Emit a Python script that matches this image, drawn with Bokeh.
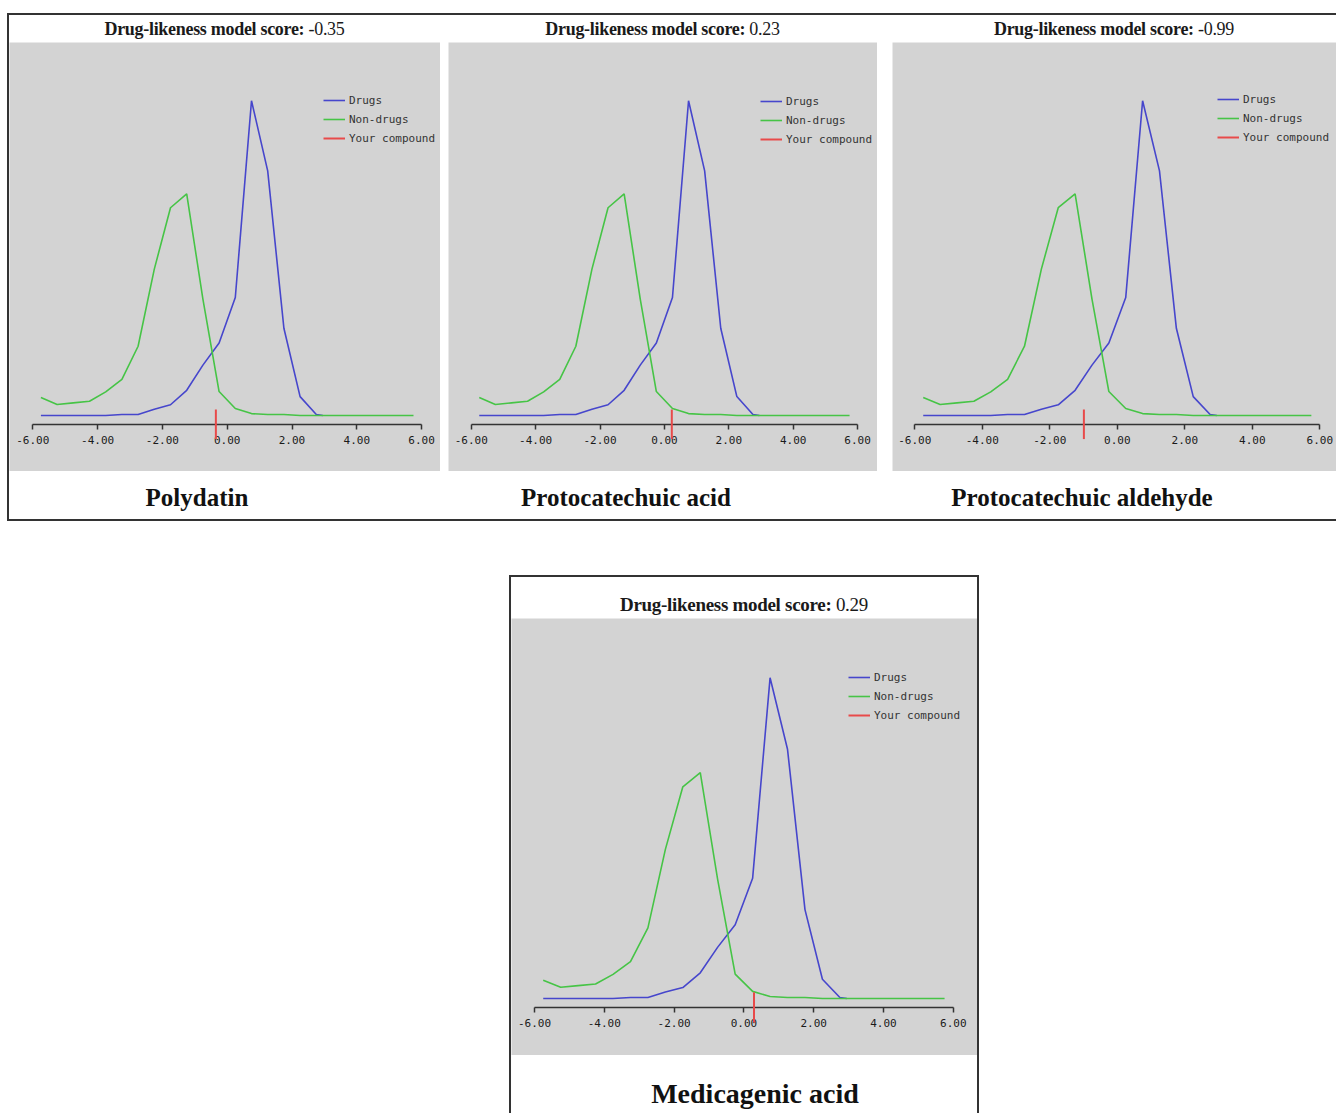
from bokeh.plotting import figure
from bokeh.models import (ColumnDataSource, FixedTicker, Div, Spacer, Row, Column)
from bokeh.embed import file_html
from bokeh.resources import INLINE

# ---------------- data ----------------
compounds = ["Polydatin", "Protocatechuic acid", "Protocatechuic aldehyde", "Medicagenic acid"]
scores = [-0.35, 0.23, -0.99, 0.29]

score_bins = [-5.75, -5.25, -4.75, -4.25, -3.75, -3.25, -2.75, -2.25, -1.75, -1.25,
              -0.75, -0.25, 0.25, 0.75, 1.25, 1.75, 2.25, 2.75, 3.25, 3.75,
              4.25, 4.75, 5.25, 5.75]
nondrugs_y = [0.057, 0.035, 0.040, 0.045, 0.075, 0.115, 0.220, 0.465, 0.660, 0.704,
              0.370, 0.076, 0.022, 0.006, 0.003, 0.003, 0.0, 0.0, 0.0, 0.0,
              0.0, 0.0, 0.0, 0.0]
drugs_x = [-5.75, -5.25, -4.75, -4.25, -3.75, -3.25, -2.75, -2.25, -1.75, -1.25,
           -0.75, -0.25, 0.25, 0.75, 1.25, 1.75, 2.25, 2.75, 2.95]
drugs_y = [0.0, 0.0, 0.0, 0.0, 0.0, 0.003, 0.003, 0.020, 0.034, 0.080,
           0.160, 0.230, 0.375, 1.000, 0.777, 0.277, 0.060, 0.003, 0.0]

tick_values = [-6, -4, -2, 0, 2, 4, 6]
tick_labels = ["-6.00", "-4.00", "-2.00", "0.00", "2.00", "4.00", "6.00"]
legend_labels = ["Drugs", "Non-drugs", "Your compound"]

# ---------------- style ----------------
GRAY = "#d3d3d3"
BLUE = "#4646cc"
GREEN = "#46c446"
RED = "#e84a4a"
INK = "#333333"

Y_RANGE = (-0.178, 1.185)
AXIS_Y = -0.028
MARK_TOP, MARK_BOT = 0.019, -0.075


def make_panel(score, width, height, left_pad, px_per_unit, legend_xy):
    x0 = -6 - left_pad / px_per_unit
    x1 = x0 + width / px_per_unit
    p = figure(width=width, height=height, x_range=(x0, x1), y_range=Y_RANGE,
               output_backend="svg", toolbar_location=None, y_axis_location=None,
               min_border=0, background_fill_color=GRAY, border_fill_color=GRAY,
               outline_line_color=None)
    p.grid.visible = False
    p.line(drugs_x, drugs_y, line_color=BLUE, line_width=1.6, legend_label=legend_labels[0])
    p.line(score_bins, nondrugs_y, line_color=GREEN, line_width=1.6, legend_label=legend_labels[1])
    src = ColumnDataSource(dict(x=[score], y0=[MARK_TOP], y1=[MARK_BOT]))
    seg = p.segment(x0="x", y0="y0", x1="x", y1="y1", source=src, line_color=RED,
                    line_width=2, legend_label=legend_labels[2])
    seg.level = "overlay"

    ax = p.xaxis[0]
    ax.fixed_location = AXIS_Y
    ax.bounds = (tick_values[0], tick_values[-1])
    ax.ticker = FixedTicker(ticks=tick_values)
    ax.major_label_overrides = {v: l for v, l in zip(tick_values, tick_labels)}
    ax.minor_tick_line_color = None
    ax.major_tick_in = 0
    ax.major_tick_out = 5
    ax.axis_line_color = INK
    ax.axis_line_width = 1.5
    ax.major_tick_line_color = INK
    ax.major_tick_line_width = 1.5
    ax.major_label_standoff = 7
    ax.major_label_text_font = "DejaVu Sans Mono"
    ax.major_label_text_font_size = "11px"
    ax.major_label_text_color = "#1a1a1a"

    lg = p.legend[0]
    lg.location = legend_xy
    lg.background_fill_alpha = 0
    lg.border_line_alpha = 0
    lg.padding = 0
    lg.margin = 0
    lg.spacing = 5
    lg.glyph_width = 22
    lg.glyph_height = 14
    lg.label_height = 14
    lg.label_standoff = 4
    lg.label_text_font = "DejaVu Sans Mono"
    lg.label_text_font_size = "11px"
    lg.label_text_color = "#333333"
    return p


def title_div(score, width, height, pad_top, size):
    txt = (f'<div style="width:{width}px;display:block;font-family:\'Liberation Serif\',serif;'
           f'font-size:{size}px;letter-spacing:-0.3px;line-height:28px;padding-top:{pad_top}px;'
           f'text-align:center;color:#1a1a1a;white-space:nowrap">'
           f'<b>Drug-likeness model score:</b> {score:.2f}</div>')
    return Div(text=txt, width=width, height=height, margin=0)


def name_row(name, center, height, pad_top, size):
    w = 320
    d = Div(text=(f'<div style="width:{w}px;display:block;font-family:\'Liberation Serif\',serif;'
                  f'font-size:{size}px;font-weight:bold;line-height:28px;padding-top:{pad_top}px;'
                  f'text-align:center;color:#111;white-space:nowrap">{name}</div>'),
            width=w, height=height, margin=0)
    return Row(children=[Spacer(width=int(center - w / 2), height=height, margin=0), d], margin=0)


# ---------------- top box: three panels ----------------
top_specs = [
    # width, left_pad, px/unit, legend(x,y), name centre
    (431, 23.3, 32.4, (314, 326), 188),
    (429, 22.7, 32.2, (312, 325), 178),
    (444, 22.3, 33.75, (325, 327), 190),
]
GAPS = [8, 15]
H_TOP = 429

top_children = []
for i, (w, lp, ppu, lxy, nc) in enumerate(top_specs):
    col = Column(children=[
        title_div(scores[i], w, 27, 0, 18),
        make_panel(scores[i], w, H_TOP, lp, ppu, lxy),
        name_row(compounds[i], nc, 48, 13, 25),
    ], margin=0)
    top_children.append(col)
    if i < 2:
        top_children.append(Spacer(width=GAPS[i], height=10, margin=0))

box_style = {"border-top": "2px solid #333", "border-left": "2px solid #333",
             "border-bottom": "2px solid #333"}
top_box = Row(children=top_children, margin=0, styles=box_style)

# ---------------- bottom box ----------------
bot_col = Column(children=[
    title_div(scores[3], 466, 41, 14, 19),
    make_panel(scores[3], 466, 437, 23.0, 34.9, (337, 333)),
    name_row(compounds[3], 244, 58, 25, 28),
], margin=0)
bot_box = Row(children=[bot_col], margin=0,
              styles={"border-top": "2px solid #333", "border-left": "2px solid #333",
                      "border-right": "2px solid #333"})

page = Column(children=[
    Spacer(height=13, width=10, margin=0),
    Row(children=[Spacer(width=7, height=10, margin=0), top_box], margin=0),
    Spacer(height=54, width=10, margin=0),
    Row(children=[Spacer(width=509, height=10, margin=0), bot_box], margin=0),
], margin=0)

open("out.html", "w").write(file_html(page, INLINE))
